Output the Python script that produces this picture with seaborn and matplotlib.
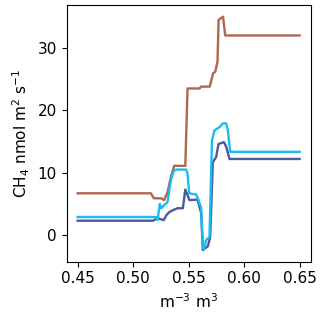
import matplotlib
matplotlib.use("Agg")
import matplotlib.pyplot as plt
import seaborn as sns

# breakpoints
brown_x = [0.45, 0.516, 0.5186, 0.525, 0.528, 0.531, 0.534, 0.537, 0.547, 0.549,
           0.560, 0.561, 0.569, 0.572, 0.574, 0.576, 0.577, 0.581, 0.583, 0.65]
brown_y = [6.7, 6.7, 5.9, 5.9, 5.6, 6.9, 9.3, 11.1, 11.1, 23.5,
           23.5, 23.8, 23.8, 25.9, 26.2, 27.8, 34.5, 35.0, 32.0, 32.0]

blue_x = [0.45, 0.5177, 0.522, 0.5276, 0.530, 0.5327, 0.536, 0.540, 0.5448, 0.547,
          0.549, 0.5507, 0.558, 0.5613, 0.5628, 0.5673, 0.5694, 0.5718, 0.5748,
          0.5769, 0.5818, 0.584, 0.5868, 0.65]
blue_y = [2.3, 2.3, 2.7, 2.4, 3.2, 3.7, 4.0, 4.3, 4.3, 7.3,
          6.4, 5.6, 5.7, 3.5, -2.4, -1.8, -0.3, 11.7, 12.5,
          14.6, 14.9, 14.1, 12.2, 12.2]

cyan_x = [0.45, 0.5207, 0.522, 0.524, 0.5255, 0.528, 0.531, 0.534, 0.5366, 0.539,
          0.5477, 0.549, 0.5505, 0.5568, 0.559, 0.5613, 0.5628, 0.5638, 0.5658,
          0.5688, 0.571, 0.5733, 0.5778, 0.5808, 0.5838, 0.5853, 0.5875, 0.65]
cyan_y = [2.9, 2.9, 2.4, 5.0, 4.3, 4.8, 5.3, 8.8, 10.3, 10.5,
          10.5, 9.9, 6.7, 6.5, 5.6, 4.3, -1.6, -2.3, -0.8,
          -0.3, 15.2, 16.8, 17.3, 17.9, 17.9, 16.8, 13.35, 13.35]

plt.rcParams["font.size"] = 11
fig = plt.figure(figsize=(3.2, 3.18), dpi=100)
ax = fig.add_axes([0.208, 0.177, 0.763, 0.807])

sns.lineplot(x=brown_x, y=brown_y, color="#b06650", lw=1.7, ax=ax)
sns.lineplot(x=blue_x, y=blue_y, color="#4a5a9e", lw=1.7, ax=ax)
sns.lineplot(x=cyan_x, y=cyan_y, color="#18bdf0", lw=1.7, ax=ax)

ax.set_xticks([0.45, 0.50, 0.55, 0.60, 0.65])
ax.set_yticks([0, 10, 20, 30])
ax.set_xlabel("m$^{-3}$ m$^3$")
ax.set_ylabel("CH$_4$ nmol m$^2$ s$^{-1}$")

fig.savefig("out.png", dpi=100)
plt.close()
